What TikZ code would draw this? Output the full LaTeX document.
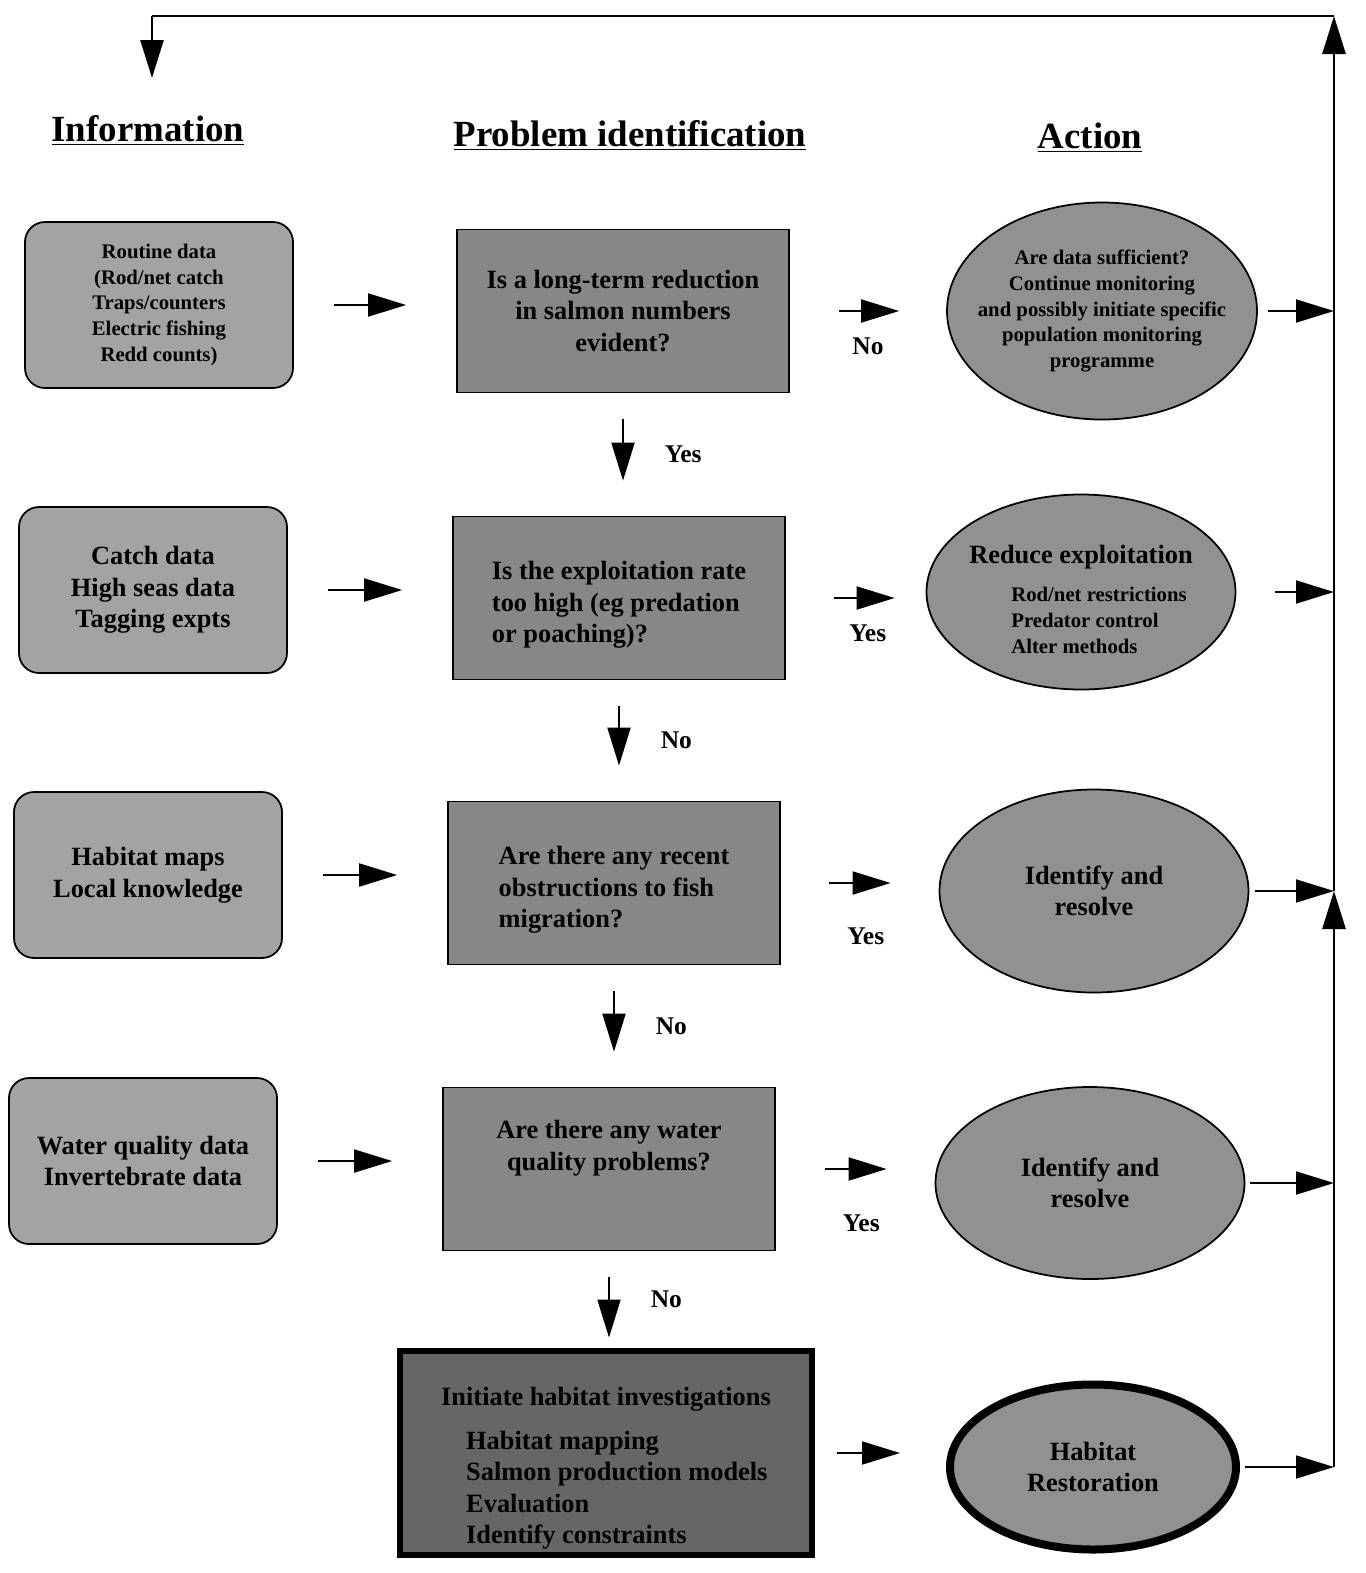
\documentclass[tikz,border=0pt]{standalone}
\usepackage{fontspec}
\setmainfont{Liberation Serif}
\usetikzlibrary{arrows.meta,shapes.geometric}

\newcommand\fsbig{\fontsize{15}{18}\selectfont\bfseries}
\newcommand\fssmall{\fontsize{11.8}{14.6}\selectfont\bfseries}
\newcommand\fshead{\fontsize{21}{25}\selectfont\bfseries}

\definecolor{infogray}{gray}{0.64}
\definecolor{questgray}{gray}{0.53}
\definecolor{investgray}{gray}{0.40}
\definecolor{actgray}{gray}{0.57}

\begin{document}
\begin{tikzpicture}[x=0.2mm,y=-0.2mm,
    info/.style={draw,line width=1pt,rounded corners=4mm,fill=infogray,align=center,
                 font=\fsbig,minimum width=53.6mm,minimum height=33.2mm},
    quest/.style={draw,line width=1pt,fill=questgray,align=center,font=\fsbig,
                  minimum width=66.4mm,minimum height=32.6mm},
    act/.style={draw,ellipse,line width=1pt,fill=actgray,align=center,font=\fsbig,
                inner xsep=-4mm,inner ysep=0pt,minimum width=61.8mm,minimum height=39mm},
    flow/.style={-{Triangle[length=7.6mm,width=4.6mm]},line width=1.1pt},
    rail/.style={flow,line width=1.5pt},
    answer/.style={font=\fontsize{14.5}{17}\selectfont\bfseries},
    heading/.style={font=\fshead}
]
\useasboundingbox (0,0) rectangle (1366,1573);

\node[heading] (hinfo) at (148,130) {\underline{Information}};
\node[heading] (hprob) at (630,135) {\underline{Problem identification}};
\node[heading] (hact) at (1090,138) {\underline{Action}};

% information column
\node[info,font=\fssmall] (routine) at (159,305) {Routine data\\(Rod/net catch\\Traps/counters\\Electric fishing\\Redd counts)};
\node[info] (catch) at (153,590) {Catch data\\High seas data\\Tagging expts};
\node[info] (habmap) at (148,875) {Habitat maps\\Local knowledge};
\node[info] (water) at (143,1161) {Water quality data\\Invertebrate data};

% problem identification column
\node[quest] (decline) at (623,311) {Is a long-term reduction\\in salmon numbers\\evident?};
\node[quest,align=left,text height=19.1mm] (exploit) at (619,598) {Is the exploitation rate\\too high (eg predation\\or poaching)?};
\node[quest,align=left,text height=19.1mm] (obstruct) at (614,883) {Are there any recent\\obstructions to fish\\migration?};
\node[quest,text depth=9.5mm] (quality) at (609,1169) {Are there any water\\quality problems?};
\node[quest,fill=investgray,line width=1.2mm,minimum width=82.2mm,minimum height=40.2mm,align=left,text height=37.5mm] (investigate) at (606,1453)
  {Initiate habitat investigations\\[7pt]\hspace*{5mm}Habitat mapping\\\hspace*{5mm}Salmon production models\\\hspace*{5mm}Evaluation\\\hspace*{5mm}Identify constraints};

% action column
\node[act,font=\fssmall,minimum width=62mm,minimum height=43.4mm] (monitor) at (1102,311)
  {Are data sufficient?\\Continue monitoring\\and possibly initiate specific\\population monitoring\\programme};
\node[act,font=\fssmall,align=left,text height=24.5mm] (reduce) at (1081,592)
  {{\fsbig Reduce exploitation}\\[7.5pt]\hspace*{8.4mm}Rod/net restrictions\\\hspace*{8.4mm}Predator control\\\hspace*{8.4mm}Alter methods};
\node[act,minimum height=40.6mm] (resolve1) at (1094,891) {Identify and\\resolve};
\node[act,minimum height=38.4mm] (resolve2) at (1090,1183) {Identify and\\resolve};
\node[act,line width=1.6mm,minimum width=57.2mm,minimum height=33mm] (restore) at (1093,1467) {Habitat\\Restoration};

% information to problem
\draw[flow,shorten <=8mm,shorten >=10mm] (routine.east) -- (routine.east -| decline.west);
\draw[flow,shorten <=8mm,shorten >=10mm] (catch.east) -- (catch.east -| exploit.west);
\draw[flow,shorten <=8mm,shorten >=10mm] (habmap.east) -- (habmap.east -| obstruct.west);
\draw[flow,shorten <=8mm,shorten >=10mm] (water.east) -- (water.east -| quality.west);

% problem to action
\draw[flow,shorten <=9.8mm,shorten >=9.4mm] (decline.east) -- node[answer,below=4mm]{No} (decline.east -| monitor.west);
\draw[flow,shorten <=9.6mm,shorten >=6.2mm] (exploit.east) -- node[answer,below=4mm,xshift=2.4mm]{Yes} (exploit.east -| reduce.west);
\draw[flow,shorten <=9.6mm,shorten >=9.6mm] (obstruct.east) -- node[answer,below=7.6mm,xshift=1.2mm]{Yes} (obstruct.east -| resolve1.west);
\draw[flow,shorten <=9.8mm,shorten >=9.6mm] (quality.east) -- node[answer,below=7.8mm,xshift=1.2mm]{Yes} (quality.east -| resolve2.west);
\draw[flow,shorten <=4.4mm,shorten >=9.2mm] (investigate.east) -- (investigate.east -| restore.west);

% down the problem column
\draw[flow,shorten <=5.2mm,shorten >=7mm] (decline.south) -- node[answer,right=7mm]{Yes} (decline.south |- exploit.north);
\draw[flow,shorten <=5.2mm,shorten >=7mm] (exploit.south) -- node[answer,right=7mm]{No} (exploit.south |- obstruct.north);
\draw[flow,shorten <=5.2mm,shorten >=7mm] (obstruct.south) -- node[answer,right=7mm]{No} (obstruct.south |- quality.north);
\draw[flow,shorten <=5.2mm,shorten >=2mm] (quality.south) -- node[answer,right=7mm]{No} (quality.south |- investigate.north);

% feedback rail
\coordinate (railtop) at (1334,16);
\coordinate (railmid) at (resolve1.east -| railtop);
\coordinate (railbot) at (restore.east -| railtop);
\coordinate (topturn) at (152,16);
\coordinate (infoin) at (152,78);

\draw[flow,shorten <=2mm] (monitor.east) -- (monitor.east -| railtop);
\draw[flow,shorten <=7.8mm] (reduce.east) -- (reduce.east -| railtop);
\draw[flow,shorten <=1.2mm] (resolve1.east) -- (railmid);
\draw[flow,shorten <=1mm] (resolve2.east) -- (resolve2.east -| railtop);
\draw[flow,shorten <=1mm] (restore.east) -- (railbot);
\draw[rail] (railbot) -- (railmid);
\draw[rail] (railmid) -- (railtop);
\draw[line width=1.5pt] (railtop) -- (topturn);
\draw[rail] (topturn) -- (infoin);
\end{tikzpicture}
\end{document}
